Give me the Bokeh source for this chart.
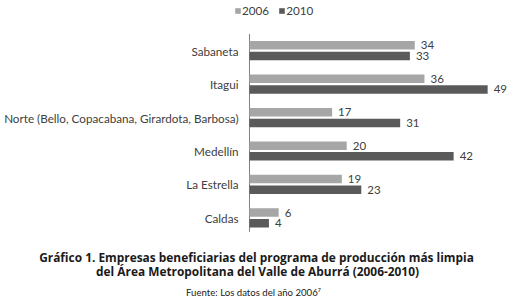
from bokeh.plotting import figure
from bokeh.models import (FactorRange, Range1d, ColumnDataSource, Label, Legend, LegendItem)
from bokeh.transform import dodge
from bokeh.core.properties import value
from bokeh.embed import file_html
from bokeh.resources import INLINE

categories = ["Sabaneta", "Itagui", "Norte (Bello, Copacabana, Girardota, Barbosa)",
              "Medellín", "La Estrella", "Caldas"]
values_2006 = [34, 36, 17, 20, 19, 6]
values_2010 = [33, 49, 31, 42, 23, 4]
series_names = ["2006", "2010"]
title_line1 = "Gráfico 1. Empresas beneficiarias del programa de producción más limpia"
title_line2 = "del Área Metropolitana del Valle de Aburrá (2006-2010)"
source_text = "Fuente: Los datos del año 2006\u2077"

C2006 = "#a6a6a6"
C2010 = "#5a5a5a"
TXT = "#404040"
FONT = "Lato"

# blank factors reserve room for legend (top) and captions (bottom)
pad_top = ["\u2002"]
pad_bottom = ["\u2003", "\u2004"]
factors = pad_bottom + list(reversed(categories)) + pad_top

src = ColumnDataSource(dict(
    cat=categories,
    v06=values_2006,
    v10=values_2010,
    l06=[str(v) for v in values_2006],
    l10=[str(v) for v in values_2010],
    zero=[0] * len(categories),
))
axis_src = ColumnDataSource(dict(x=[0], top=[categories[0]], bottom=[categories[-1]]))

p = figure(width=510, height=301, output_backend="svg", toolbar_location=None,
           y_range=FactorRange(factors=factors, range_padding=0),
           x_range=Range1d(-51.23, 53.7), min_border=0)
p.outline_line_color = None
p.grid.visible = False
p.axis.visible = False
p.background_fill_color = "white"
p.border_fill_color = "white"

# category axis line
p.segment(x0="x", x1="x", y0=dodge("top", 0.5, range=p.y_range),
          y1=dodge("bottom", -0.42, range=p.y_range), source=axis_src,
          line_color="#808080", line_width=1)

r06 = p.hbar(y=dodge("cat", 0.16, range=p.y_range), right="v06", left=0, height=0.255,
             source=src, fill_color=C2006, line_color=None)
r10 = p.hbar(y=dodge("cat", -0.16, range=p.y_range), right="v10", left=0, height=0.255,
             source=src, fill_color=C2010, line_color=None)

# category labels
p.text(x="zero", y="cat", text="cat", source=src, x_offset=-11,
       text_baseline="middle", text_align="right",
       text_font=value(FONT), text_font_size="11.7px", text_color=TXT)

# value labels
p.text(x="v06", y=dodge("cat", 0.16, range=p.y_range), text="l06", source=src,
       x_offset=6, text_baseline="middle", text_align="left",
       text_font=value(FONT), text_font_size="11.5px", text_color=TXT)
p.text(x="v10", y=dodge("cat", -0.16, range=p.y_range), text="l10", source=src,
       x_offset=6, text_baseline="middle", text_align="left",
       text_font=value(FONT), text_font_size="11.5px", text_color=TXT)

legend = Legend(items=[LegendItem(label=series_names[0], renderers=[r06]),
                       LegendItem(label=series_names[1], renderers=[r10])],
                orientation="horizontal", location=(234, 284),
                glyph_width=7, glyph_height=7, label_height=12, label_width=20,
                label_standoff=1, spacing=9, padding=0, margin=0,
                border_line_color=None, background_fill_alpha=0,
                label_text_font=FONT, label_text_font_size="11.7px", label_text_color=TXT)
p.add_layout(legend, "center")

cap_kw = dict(x_units="screen", y_units="screen", text_align="center",
              text_baseline="middle", text_color="#1a1a1a")
p.add_layout(Label(x=256, y=45, text=title_line1, text_font="Open Sans",
                   text_font_style="bold", text_font_size="11.9px", **cap_kw))
p.add_layout(Label(x=257, y=31, text=title_line2, text_font="Open Sans",
                   text_font_style="bold", text_font_size="11.9px", **cap_kw))
p.add_layout(Label(x=253, y=9.5, text=source_text, text_font=FONT,
                   text_font_size="9.6px", **cap_kw))

open("out.html", "w").write(file_html(p, INLINE))
